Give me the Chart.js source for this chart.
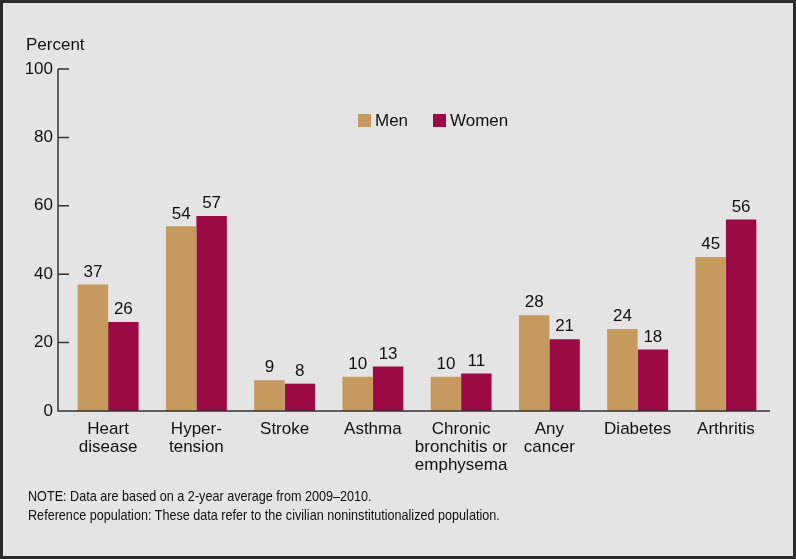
<!DOCTYPE html>
<html>
<head>
<meta charset="utf-8">
<script src="https://cdn.jsdelivr.net/npm/chart.js@4/dist/chart.umd.min.js"></script>
<style>
  body { margin: 0; background: #e4e4e4; }
  #wrap { position: relative; width: 796px; height: 559px; background: #e4e4e4; overflow: hidden; }
  #canvas { position: absolute; left: 0; top: 0; }
  .txt { position: absolute; font-family: "Liberation Sans", Arial, Helvetica, sans-serif; color: #111; white-space: nowrap; }
  #ytitle { left: 26px; top: 35px; font-size: 17px; }
  .legend { top: 111px; font-size: 17px; }
  .swatch { display: inline-block; width: 13px; height: 13px; margin-right: 4px; vertical-align: -1px; }
  .note { left: 28px; font-size: 14.5px; transform: scaleX(0.87); transform-origin: left center; }
  #frame { position: absolute; left: 0; top: 0; right: 0; bottom: 0; border: 3px solid #2b2b2b; pointer-events: none; }
</style>
</head>
<body>
<div id="wrap">
  <canvas id="canvas" width="796" height="559"></canvas>
  <div class="txt" id="ytitle">Percent</div>
  <div class="txt legend" style="left:358px"><span class="swatch" style="background:#c69a5f"></span>Men</div>
  <div class="txt legend" style="left:433px"><span class="swatch" style="background:#9b0a45"></span>Women</div>
  <div class="txt note" style="top:488px">NOTE: Data are based on a 2-year average from 2009–2010.</div>
  <div class="txt note" style="top:507px">Reference population: These data refer to the civilian noninstitutionalized population.</div>
  <div id="frame"></div>
</div>
<script>
let categories = [
    ['Heart', 'disease'],
    ['Hyper-', 'tension'],
    'Stroke',
    'Asthma',
    ['Chronic', 'bronchitis or', 'emphysema'],
    ['Any', 'cancer'],
    'Diabetes',
    'Arthritis'
];
let men = [37, 54, 9, 10, 10, 28, 24, 45];
let women = [26, 57, 8, 13, 11, 21, 18, 56];
let yTicks = [0, 20, 40, 60, 80, 100];

let fontFamily = '"Liberation Sans", Arial, Helvetica, sans-serif';

// axis lines, inner tick marks and the value above each bar
let extras = {
    id: 'extras',
    afterDatasetsDraw(chart) {
        let ctx = chart.ctx;
        let area = chart.chartArea;
        let y = chart.scales.y;
        let x0 = area.left - 6;
        ctx.save();
        ctx.strokeStyle = '#333';
        ctx.lineWidth = 1.5;
        ctx.beginPath();
        ctx.moveTo(x0, y.getPixelForValue(100));
        ctx.lineTo(x0, y.getPixelForValue(0));
        ctx.lineTo(area.right, y.getPixelForValue(0));
        yTicks.forEach(v => {
            let py = y.getPixelForValue(v);
            ctx.moveTo(x0, py);
            ctx.lineTo(x0 + 11, py);
        });
        ctx.stroke();

        ctx.fillStyle = '#111';
        ctx.font = '17px ' + fontFamily;
        ctx.textAlign = 'center';
        ctx.textBaseline = 'bottom';
        chart.data.datasets.forEach((ds, i) => {
            chart.getDatasetMeta(i).data.forEach((bar, j) => {
                ctx.fillText(ds.data[j], bar.x, bar.y - 4);
            });
        });
        ctx.restore();
    }
};

let ctx = document.getElementById('canvas').getContext('2d');
let chart = new Chart(ctx, {
    type: 'bar',
    data: {
        labels: categories,
        datasets: [{
            label: 'Men',
            backgroundColor: '#c69a5f',
            data: men,
        }, {
            label: 'Women',
            backgroundColor: '#9b0a45',
            data: women,
        }],
    },
    options: {
        responsive: false,
        animation: false,
        devicePixelRatio: 1,
        layout: { padding: { top: 69, right: 26, left: 0, bottom: 0 } },
        datasets: { bar: { categoryPercentage: 0.69, barPercentage: 1 } },
        plugins: { legend: { display: false }, tooltip: { enabled: false } },
        scales: {
            x: {
                grid: { display: false, drawTicks: false },
                border: { display: false },
                ticks: {
                    color: '#111',
                    padding: 9,
                    maxRotation: 0,
                    autoSkip: false,
                    font: { family: fontFamily, size: 17, lineHeight: 1.06 },
                },
                afterFit: s => { s.height = 559 - 411; },
            },
            y: {
                min: 0,
                max: 100,
                grid: { display: false, drawTicks: false },
                border: { display: false },
                ticks: {
                    stepSize: 20,
                    color: '#111',
                    padding: 11,
                    font: { family: fontFamily, size: 17 },
                },
                afterFit: s => { s.width = 64; },
            },
        },
    },
    plugins: [extras],
});
</script>
</body>
</html>
